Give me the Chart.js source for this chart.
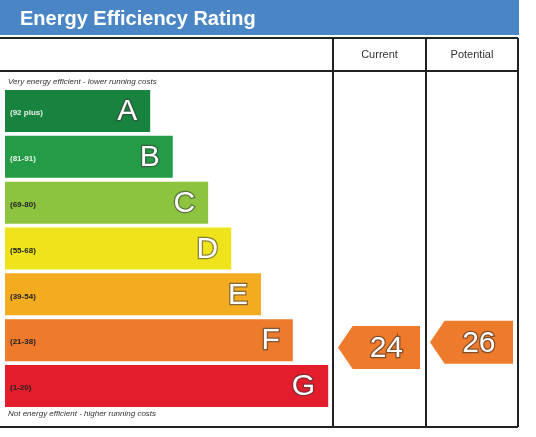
<!DOCTYPE html>
<html>
<head>
<meta charset="utf-8">
<script src="https://cdn.jsdelivr.net/npm/chart.js@4.4.1/dist/chart.umd.min.js"></script>
<style>
    html, body { margin: 0; padding: 0; background: #fff; }
    #wrap { width: 536px; height: 437px; position: relative; }
</style>
</head>
<body>
<div id="wrap"><canvas id="epcChart"></canvas></div>
<script>
const bandLetters = ["A", "B", "C", "D", "E", "F", "G"];
const bandRanges = ["(92 plus)", "(81-91)", "(69-80)", "(55-68)", "(39-54)", "(21-38)", "(1-20)"];
const bandLengths = [28.3, 32.7, 39.6, 44.1, 49.9, 56.1, 63.0];
const bandColors = ["#17833f", "#249b47", "#8cc33f", "#efe31c", "#f3ac20", "#ee7a2b", "#e31d2b"];
const rangeTextColors = ["#e8f3ea", "#e8f3ea", "#222", "#222", "#222", "#222", "#222"];
const currentRating = 24;
const potentialRating = 26;

const titleText = "Energy Efficiency Rating";
const topNote = "Very energy efficient - lower running costs";
const bottomNote = "Not energy efficient - higher running costs";

// table layout (pixels)
const colLines = [333, 426, 518];
const rowLines = [38, 71, 427];

const drawArrow = (ctx, left, right, cy, h, text) => {
    const tip = h * 0.34;
    ctx.save();
    ctx.beginPath();
    ctx.moveTo(left, cy);
    ctx.lineTo(left + tip, cy - h / 2);
    ctx.lineTo(right, cy - h / 2);
    ctx.lineTo(right, cy + h / 2);
    ctx.lineTo(left + tip, cy + h / 2);
    ctx.closePath();
    ctx.fillStyle = "#ee7b2c";
    ctx.fill();
    ctx.font = "30px 'Liberation Sans', Arial, sans-serif";
    ctx.textAlign = "center";
    ctx.textBaseline = "middle";
    ctx.lineWidth = 2.5;
    ctx.strokeStyle = "rgba(90,60,40,0.75)";
    const tx = (left + tip + right) / 2;
    ctx.strokeText(text, tx, cy + 1);
    ctx.fillStyle = "#fff";
    ctx.fillText(text, tx, cy + 1);
    ctx.restore();
};

const epcFrame = {
    id: "epcFrame",
    beforeDraw(chart) {
        const ctx = chart.ctx;
        ctx.save();
        // header bar
        ctx.fillStyle = "#4a85c6";
        ctx.fillRect(0, 0, 519, 35);
        ctx.fillStyle = "#fff";
        ctx.font = "bold 20px 'Liberation Sans', Arial, sans-serif";
        ctx.textBaseline = "alphabetic";
        ctx.fillText(titleText, 20, 25);

        // column headings
        ctx.fillStyle = "#333";
        ctx.font = "11px 'Liberation Sans', Arial, sans-serif";
        ctx.textAlign = "center";
        ctx.fillText("Current", (colLines[0] + colLines[1]) / 2, 58);
        ctx.fillText("Potential", (colLines[1] + colLines[2]) / 2, 58);

        // notes
        ctx.textAlign = "left";
        ctx.fillStyle = "#333";
        ctx.font = "italic 8px 'Liberation Sans', Arial, sans-serif";
        ctx.fillText(topNote, 8, 84);
        ctx.fillText(bottomNote, 8, 416);
        ctx.restore();
    },
    afterDatasetsDraw(chart) {
        const ctx = chart.ctx;
        const meta = chart.getDatasetMeta(0);
        ctx.save();
        meta.data.forEach((bar, i) => {
            // range label
            ctx.font = "bold 8px 'Liberation Sans', Arial, sans-serif";
            ctx.textAlign = "left";
            ctx.textBaseline = "middle";
            ctx.fillStyle = rangeTextColors[i];
            ctx.fillText(bandRanges[i], 10, bar.y + 2);
            // band letter
            ctx.font = "30px 'Liberation Sans', Arial, sans-serif";
            ctx.textAlign = "right";
            ctx.lineWidth = 2.5;
            ctx.strokeStyle = "rgba(60,60,60,0.6)";
            ctx.strokeText(bandLetters[i], bar.x - 13, bar.y + 1);
            ctx.fillStyle = "#fff";
            ctx.fillText(bandLetters[i], bar.x - 13, bar.y + 1);
        });

        // table lines
        ctx.strokeStyle = "#222";
        ctx.lineWidth = 2;
        ctx.beginPath();
        rowLines.forEach((y) => {
            ctx.moveTo(0, y);
            ctx.lineTo(colLines[2], y);
        });
        colLines.forEach((x) => {
            ctx.moveTo(x, rowLines[0]);
            ctx.lineTo(x, rowLines[2]);
        });
        ctx.stroke();

        // rating arrows
        const y2 = chart.scales.y2;
        drawArrow(ctx, colLines[0] + 5, colLines[1] - 6, y2.getPixelForValue(currentRating), 43, String(currentRating));
        drawArrow(ctx, colLines[1] + 4, colLines[2] - 5, y2.getPixelForValue(potentialRating), 43, String(potentialRating));
        ctx.restore();
    }
};

const ctx = document.getElementById("epcChart").getContext("2d");

const epcChart = new Chart(ctx, {
    type: "bar",
    data: {
        labels: bandLetters,
        datasets: [
            {
                label: "Band",
                data: bandLengths,
                backgroundColor: bandColors,
                borderWidth: 0,
                barPercentage: 0.916,
                categoryPercentage: 1
            }
        ]
    },
    options: {
        indexAxis: "y",
        responsive: true,
        maintainAspectRatio: false,
        animation: false,
        layout: {
            padding: { left: 5, right: 18, top: 88, bottom: 28 }
        },
        plugins: {
            legend: { display: false },
            tooltip: { enabled: false }
        },
        scales: {
            x: { type: "linear", min: 0, max: 100, display: false },
            y: { type: "category", display: false },
            y2: { type: "linear", min: 9, max: 116, display: false, position: "right" }
        }
    },
    plugins: [epcFrame]
});
</script>
</body>
</html>
